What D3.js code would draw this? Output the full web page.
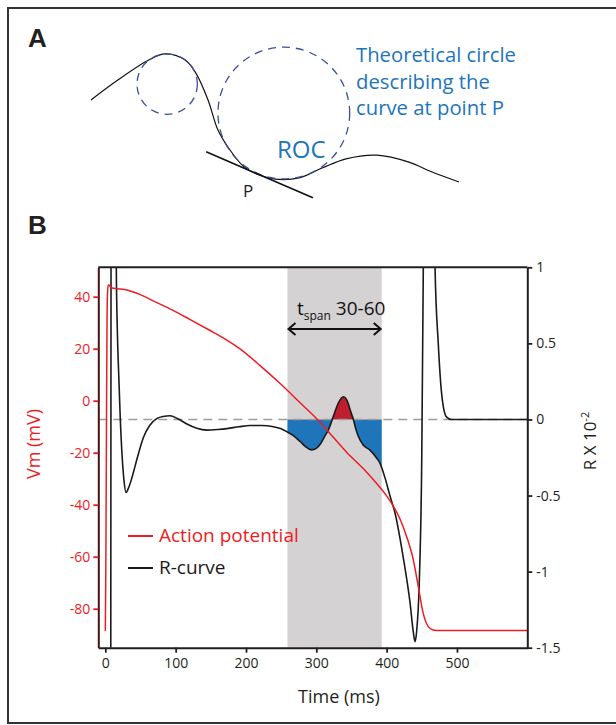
<!DOCTYPE html>
<html>
<head>
<meta charset="utf-8">
<script src="https://cdn.jsdelivr.net/npm/d3@7"></script>
<style>
  body { margin: 0; background: #fff; }
  svg { display: block; font-family: "Open Sans", sans-serif; }
</style>
</head>
<body>
<script>
// ---- panel B data ----
const apTime = [0, 0.8, 1.6, 2.4, 3.2, 4.2, 5.5, 8, 12, 20, 32, 45, 56, 71, 92, 120, 149, 170, 192, 220,
  249, 277, 303, 320, 343, 367, 390, 400, 410, 419, 428.5, 438, 445, 452, 459, 466, 475, 600];
const apVm = [-88.6, -60, -10, 30, 42, 44.5, 44.4, 43.6, 43.2, 43, 42.5, 41.3, 40, 38, 35.3, 31.3, 27, 23.8, 19.8, 13.5,
  6.5, -0.8, -7.6, -12.8, -19.8, -26.2, -33.2, -36.6, -40.8, -45.5, -52.3, -61.3, -71.5, -81.8, -86.8, -88.2, -88.4, -88.4];

const rTime = [7.6, 8.3, 10, 13, 14.8, 15.6, 17, 19, 21.3, 24, 26.5, 29.4, 33, 38, 45, 54, 63, 73, 82, 92,
  103, 116, 130, 144, 160, 173, 190, 206, 222, 239, 249, 258, 267, 277, 285, 293, 300, 306, 312, 317,
  324, 331, 338.5, 345, 349, 352.7, 356, 360, 367, 376, 386, 390.6, 397.7, 404.8, 411.9, 423.7, 433.3, 438, 440.4, 442.5,
  446.5, 449.9, 452.2, 455, 466, 468.8, 473.4, 478.2, 485, 492, 600];
const rValue = [-2.5, 2.5, 4, 4, 2, 1, 0.6, 0.3, 0, -0.25, -0.4, -0.48, -0.45, -0.38, -0.26, -0.12, -0.04, 0.005, 0.02, 0.024,
  0.005, -0.03, -0.058, -0.07, -0.066, -0.06, -0.048, -0.04, -0.04, -0.048, -0.06, -0.08, -0.105, -0.145, -0.18, -0.2, -0.19, -0.16, -0.11, -0.07,
  0.017, 0.105, 0.149, 0.11, 0.05, 0, -0.06, -0.114, -0.17, -0.2, -0.255, -0.288, -0.384, -0.503, -0.615, -0.91, -1.206, -1.4, -1.46, -1.4,
  -1.055, -0.266, 1.05, 3, 3, 1, 0.5, 0.17, 0.017, 0, 0];

const timeTicks = [0, 100, 200, 300, 400, 500];
const vmTicks = [40, 20, 0, -20, -40, -60, -80];
const rTicks = [1, 0.5, 0, -0.5, -1, -1.5];
const spanWindow = [259, 393];
const legendNames = ["Action potential", "R-curve"];

// ---- panel A schematic (unitless) ----
const schemU = [0, 0.73, 1.58, 2.01, 2.55, 2.85, 3.18, 3.45, 3.72, 4.16, 4.57, 5.0, 5.65, 6.28, 6.93, 7.77, 8.64, 9.27, 10];
const schemV = [2.23, 2.77, 3.32, 3.48, 3.32, 2.96, 2.23, 1.41, 0.95, 0.41, 0.19, 0.08, 0.11, 0.38, 0.63, 0.73, 0.54, 0.27, 0];
const circleU = [2.07, 5.24];
const circleV = [2.66, 1.875];
const circleR = [0.82, 1.79];
const tangentU = [3.13, 6.03];
const tangentV = [0.82, -0.43];

const COLORS = {
  red: "#ed1c24",
  blue: "#1c75bc",
  fillBlue: "#1f75b9",
  fillRed: "#be1e2d",
  shade: "#d4d2d3",
  dash: "#9d9d9d",
  circle: "#3a4f9f",
  leftAxis: "#4a1212",
};

const PLOT = { left: 98.3, right: 527.3, top: 267.3, bottom: 647.7 };

const svg = d3.select("body").append("svg")
  .attr("width", 616)
  .attr("height", 725);

// outer frame
svg.append("rect")
  .attr("x", 8).attr("y", 8)
  .attr("width", 640).attr("height", 715)
  .attr("fill", "none")
  .attr("stroke", "#333")
  .attr("stroke-width", 2);

svg.selectAll(".panel-letter")
  .data([["A", 28, 47], ["B", 28, 234]])
  .join("text")
  .attr("x", d => d[1]).attr("y", d => d[2])
  .attr("font-family", "Liberation Sans, Arial, sans-serif")
  .attr("font-weight", "bold")
  .attr("font-size", 26)
  .attr("fill", "#231f20")
  .text(d => d[0]);

// ---- panel A ----
const sU = d3.scaleLinear().domain([0, 10]).range([91, 459]);
const sV = d3.scaleLinear().domain([0, 10]).range([182, 182 - 368]);
const unit = sU(1) - sU(0);

const schem = schemU.map((u, i) => [u, schemV[i]]);
svg.append("path")
  .attr("d", d3.line().x(d => sU(d[0])).y(d => sV(d[1])).curve(d3.curveCatmullRom)(schem))
  .attr("fill", "none")
  .attr("stroke", "#111")
  .attr("stroke-width", 1.2);

svg.selectAll(".roc")
  .data(circleU.map((u, i) => ({ u, v: circleV[i], r: circleR[i] })))
  .join("circle")
  .attr("cx", d => sU(d.u))
  .attr("cy", d => sV(d.v))
  .attr("r", d => d.r * unit)
  .attr("fill", "none")
  .attr("stroke", COLORS.circle)
  .attr("stroke-width", 1.3)
  .attr("stroke-dasharray", "8,6");

svg.append("line")
  .attr("x1", sU(tangentU[0])).attr("y1", sV(tangentV[0]))
  .attr("x2", sU(tangentU[1])).attr("y2", sV(tangentV[1]))
  .attr("stroke", "#111")
  .attr("stroke-width", 1.6);

svg.append("text")
  .attr("x", 243).attr("y", 197)
  .attr("font-size", 17)
  .attr("fill", "#231f20")
  .text("P");

svg.append("text")
  .attr("x", 277).attr("y", 158)
  .attr("font-size", 24)
  .attr("fill", COLORS.blue)
  .text("ROC");

svg.append("text")
  .attr("font-size", 20.3)
  .attr("fill", COLORS.blue)
  .selectAll("tspan")
  .data(["Theoretical circle", "describing the", "curve at point P"])
  .join("tspan")
  .attr("x", 356)
  .attr("y", (d, i) => 62 + i * 26.5)
  .text(d => d);

// ---- panel B ----
const x = d3.scaleLinear().domain([-10, 600]).range([PLOT.left, PLOT.right]);
const yV = d3.scaleLinear().domain([-95, 51.3]).range([PLOT.bottom, PLOT.top]);
const yR = d3.scaleLinear().domain([-1.5, 1]).range([PLOT.bottom, PLOT.top]);

const defs = svg.append("defs");
defs.append("clipPath").attr("id", "plot-clip")
  .append("rect")
  .attr("x", PLOT.left).attr("y", PLOT.top)
  .attr("width", PLOT.right - PLOT.left).attr("height", PLOT.bottom - PLOT.top);
defs.append("clipPath").attr("id", "neg-clip")
  .append("rect")
  .attr("x", x(spanWindow[0])).attr("y", yR(0))
  .attr("width", x(spanWindow[1]) - x(spanWindow[0])).attr("height", PLOT.bottom - yR(0));
defs.append("clipPath").attr("id", "pos-clip")
  .append("rect")
  .attr("x", x(spanWindow[0])).attr("y", PLOT.top)
  .attr("width", x(spanWindow[1]) - x(spanWindow[0])).attr("height", yR(0) - PLOT.top);

// t-span shading
svg.append("rect")
  .attr("x", x(spanWindow[0])).attr("y", PLOT.top)
  .attr("width", x(spanWindow[1]) - x(spanWindow[0]))
  .attr("height", PLOT.bottom - PLOT.top)
  .attr("fill", COLORS.shade);

const rData = rTime.map((t, i) => [t, rValue[i]]);
const apData = apTime.map((t, i) => [t, apVm[i]]);

const rArea = d3.area()
  .x(d => x(d[0]))
  .y0(yR(0))
  .y1(d => yR(d[1]))
  .curve(d3.curveMonotoneX);

svg.append("path")
  .attr("d", rArea(rData))
  .attr("fill", COLORS.fillBlue)
  .attr("clip-path", "url(#neg-clip)");
svg.append("path")
  .attr("d", rArea(rData))
  .attr("fill", COLORS.fillRed)
  .attr("clip-path", "url(#pos-clip)");

// zero line of R
svg.append("line")
  .attr("x1", PLOT.left).attr("x2", PLOT.right)
  .attr("y1", yR(0)).attr("y2", yR(0))
  .attr("stroke", COLORS.dash)
  .attr("stroke-width", 1.6)
  .attr("stroke-dasharray", "9,6");

const plotG = svg.append("g").attr("clip-path", "url(#plot-clip)");

plotG.append("path")
  .attr("d", d3.line().x(d => x(d[0])).y(d => yR(d[1])).curve(d3.curveMonotoneX)(rData))
  .attr("fill", "none")
  .attr("stroke", "#1a1a1a")
  .attr("stroke-width", 1.6);

plotG.append("path")
  .attr("d", d3.line().x(d => x(d[0])).y(d => yV(d[1])).curve(d3.curveMonotoneX)(apData))
  .attr("fill", "none")
  .attr("stroke", COLORS.red)
  .attr("stroke-width", 1.5);

// top border of plot
svg.append("line")
  .attr("x1", PLOT.left).attr("x2", PLOT.right)
  .attr("y1", PLOT.top).attr("y2", PLOT.top)
  .attr("stroke", "#231f20")
  .attr("stroke-width", 2);

// axes
const xAxis = svg.append("g")
  .attr("transform", `translate(0,${PLOT.bottom})`)
  .call(d3.axisBottom(x).tickValues(timeTicks).tickSize(5).tickSizeOuter(0).tickPadding(5).tickFormat(String));
xAxis.select(".domain").attr("stroke", "#231f20").attr("stroke-width", 2);
xAxis.selectAll(".tick line").attr("stroke", "#231f20").attr("stroke-width", 1.8);
xAxis.selectAll(".tick text").attr("font-size", 14).attr("fill", "#231f20").attr("font-family", "Open Sans");

const yAxisL = svg.append("g")
  .attr("transform", `translate(${PLOT.left},0)`)
  .call(d3.axisLeft(yV).tickValues(vmTicks).tickSize(5).tickSizeOuter(0).tickPadding(3).tickFormat(String));
yAxisL.select(".domain").attr("stroke", COLORS.leftAxis).attr("stroke-width", 2);
yAxisL.selectAll(".tick line").attr("stroke", COLORS.red).attr("stroke-width", 1.8);
yAxisL.selectAll(".tick text").attr("font-size", 14).attr("fill", COLORS.red).attr("font-family", "Open Sans");

const yAxisR = svg.append("g")
  .attr("transform", `translate(${PLOT.right},0)`)
  .call(d3.axisRight(yR).tickValues(rTicks).tickSize(5).tickSizeOuter(0).tickPadding(4).tickFormat(String));
yAxisR.select(".domain").attr("stroke", "#231f20").attr("stroke-width", 2);
yAxisR.selectAll(".tick line").attr("stroke", "#231f20").attr("stroke-width", 1.8);
yAxisR.selectAll(".tick text").attr("font-size", 14).attr("fill", "#231f20").attr("font-family", "Open Sans");

// axis titles
svg.append("text")
  .attr("x", 339).attr("y", 703)
  .attr("text-anchor", "middle")
  .attr("font-size", 18)
  .attr("fill", "#231f20")
  .text("Time (ms)");

svg.append("text")
  .attr("transform", "translate(40,444) rotate(-90)")
  .attr("text-anchor", "middle")
  .attr("font-size", 18)
  .attr("fill", COLORS.red)
  .text("Vm (mV)");

const rLabel = svg.append("text")
  .attr("transform", "translate(596,441) rotate(-90)")
  .attr("text-anchor", "middle")
  .attr("font-size", 17)
  .attr("fill", "#231f20");
rLabel.append("tspan").text("R X 10");
rLabel.append("tspan").attr("font-size", 11).attr("dy", -7).text("-2");

// t-span arrow
const arrowY = 329;
const ax0 = x(spanWindow[0]), ax1 = x(spanWindow[1]);
const arrow = d3.path();
arrow.moveTo(ax0 + 1, arrowY); arrow.lineTo(ax1 - 1, arrowY);
arrow.moveTo(ax0 + 8, arrowY - 6); arrow.lineTo(ax0 + 1, arrowY); arrow.lineTo(ax0 + 8, arrowY + 6);
arrow.moveTo(ax1 - 8, arrowY - 6); arrow.lineTo(ax1 - 1, arrowY); arrow.lineTo(ax1 - 8, arrowY + 6);
svg.append("path")
  .attr("d", arrow.toString())
  .attr("fill", "none")
  .attr("stroke", "#111")
  .attr("stroke-width", 2);

const spanText = svg.append("text")
  .attr("x", 297).attr("y", 315)
  .attr("font-size", 19)
  .attr("fill", "#111");
spanText.append("tspan").text("t");
spanText.append("tspan").attr("font-size", 12).attr("dy", 5).text("span");
spanText.append("tspan").attr("dy", -5).text(" 30-60");

// legend
const legend = svg.append("g")
  .selectAll("g")
  .data(legendNames)
  .join("g")
  .attr("transform", (d, i) => `translate(128,${536 + i * 32})`);
legend.append("line")
  .attr("x1", 0).attr("x2", 25)
  .attr("stroke", (d, i) => i === 0 ? COLORS.red : "#1a1a1a")
  .attr("stroke-width", 2);
legend.append("text")
  .attr("x", 31).attr("y", 6)
  .attr("font-size", 19)
  .attr("fill", (d, i) => i === 0 ? COLORS.red : "#1a1a1a")
  .text(d => d);
</script>
</body>
</html>
